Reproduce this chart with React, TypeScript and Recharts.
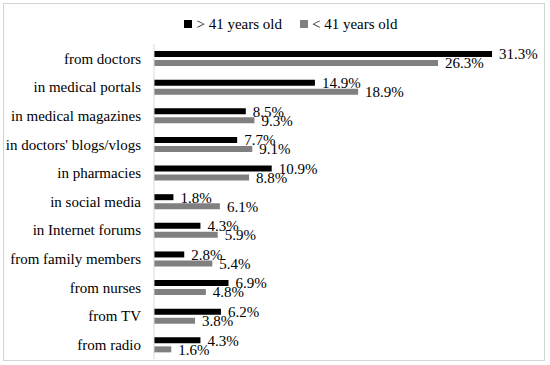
import React from "react";
import { BarChart, Bar, XAxis, YAxis, Legend, LabelList } from "recharts";

const sources = [
  "from doctors",
  "in medical portals ",
  "in medical magazines",
  "in doctors' blogs/vlogs",
  "in pharmacies",
  "in social media",
  "in Internet forums",
  "from family members",
  "from nurses",
  "from TV",
  "from radio",
];
const olderShare = [31.3, 14.9, 8.5, 7.7, 10.9, 1.8, 4.3, 2.8, 6.9, 6.2, 4.3];
const youngerShare = [26.3, 18.9, 9.3, 9.1, 8.8, 6.1, 5.9, 5.4, 4.8, 3.8, 1.6];

const FONT = "Liberation Serif";

const data = sources.map((s, i) => ({
  source: s,
  older: olderShare[i],
  younger: youngerShare[i],
}));

const fmt = (v: any) => `${Number(v).toFixed(1)}%`;

// legend drawn by hand so it sits a bit right of centre like the original
function LegendBox() {
  const item = (color: string, text: string) => (
    <span style={{ display: "inline-flex", alignItems: "center", margin: "0 9px" }}>
      <span style={{ width: 8, height: 8, background: color, marginRight: 4, display: "inline-block" }} />
      <span>{text}</span>
    </span>
  );
  return (
    <div style={{ height: 34, paddingTop: 4, paddingLeft: 50, boxSizing: "border-box", textAlign: "center", fontFamily: FONT, fontSize: 15, lineHeight: "18px", color: "#000" }}>
      {item("#000000", "> 41 years old")}
      {item("#808080", "< 41 years old")}
    </div>
  );
}

export default function App() {
  return (
    <div style={{ position: "absolute", left: 0, top: 0, width: 550, height: 365, background: "#fff" }}>
      <div style={{ position: "absolute", left: 3, top: 3, width: 542, height: 358, border: "1px solid #d4d4d4", boxSizing: "border-box" }} />
      <BarChart
        width={550}
        height={365}
        data={data}
        layout="vertical"
        margin={{ top: 10, right: 18, left: 0, bottom: 6 }}
        barSize={6}
        barGap={3}
      >
        <XAxis type="number" domain={[0, 35]} hide />
        <YAxis
          type="category"
          dataKey="source"
          width={154}
          axisLine={{ stroke: "#d9d9d9" }}
          tickLine={false}
          tickMargin={7}
          interval={0}
          tick={{ fontSize: 15, fill: "#000", fontFamily: FONT }}
        />
        <Legend verticalAlign="top" content={() => <LegendBox />} />
        <Bar dataKey="older" name="> 41 years old" fill="#000000" isAnimationActive={false}>
          <LabelList dataKey="older" position="right" offset={7} formatter={fmt} style={{ fontSize: 15, fill: "#000", fontFamily: FONT }} />
        </Bar>
        <Bar dataKey="younger" name="< 41 years old" fill="#808080" isAnimationActive={false}>
          <LabelList dataKey="younger" position="right" offset={7} formatter={fmt} style={{ fontSize: 15, fill: "#000", fontFamily: FONT }} />
        </Bar>
      </BarChart>
    </div>
  );
}
